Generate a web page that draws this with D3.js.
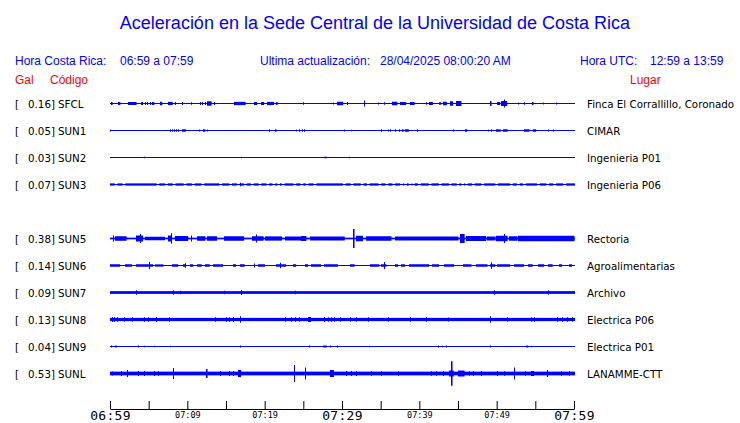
<!DOCTYPE html>
<html><head><meta charset="utf-8">
<script src="https://cdn.jsdelivr.net/npm/d3@7"></script>
<style>body{margin:0;background:#fff}svg{display:block}</style>
</head><body>
<svg id="c" width="740" height="423"></svg>
<script>
// ---------- data ----------
const title = "Aceleración en la Sede Central de la Universidad de Costa Rica";
const slots = ["SFCL","SUN1","SUN2","SUN3","SUN4","SUN5","SUN6","SUN7","SUN8","SUN9","SUNL"];
const codes = ["SFCL","SUN1","SUN2","SUN3","SUN5","SUN6","SUN7","SUN8","SUN9","SUNL"];
const peaks = [0.16,0.05,0.03,0.07,0.38,0.14,0.09,0.13,0.04,0.53];
const places = ["Finca El Corrallillo, Coronado","CIMAR","Ingenieria P01","Ingenieria P06","Rectoria","Agroalimentarias","Archivo","Electrica P06","Electrica P01","LANAMME-CTT"];
// background noise half-amplitude (Gal)
const noise = [0.01,0.01,0.01,0.045,0.035,0.015,0.055,0.065,0.01,0.075];
// quiet gaps (minutes after 06:59) for SUN3
const gapsSUN3 = [0.8,1.8,6.2,7.3,8.3,9.7,10.8,12.0,14.3,15.6,16.6,17.5,18.4,19.4,20.4,21.2,21.8,22.4,23.9,24.8,25.5,26.5,30.3,31.3,32.6,33.4,34.9,35.8,36.7,37.7,38.2,38.8,39.2,40.0,41.4,42.7,44.0,45.0,45.6,46.1,47.0,48.2,50.0,51.9,52.8,53.6,55.4,56.6,57.5,58.8];
// bursts: [start min, end min, half-amplitude Gal]
const burstsSFCL = [[0.1,0.3,.06],[1.0,1.3,.06],[2.3,3.4,.06],[4.0,4.0,.06],[4.2,4.2,.06],[4.5,4.5,.06],[4.8,4.8,.06],[5.2,5.2,.06],[5.4,5.7,.06],[6.5,6.8,.07],[7.5,8.1,.065],[8.4,8.4,.06],[9.3,9.3,.06],[10.5,10.5,.05],[11.6,11.6,.06],[11.9,11.9,.06],[12.3,12.3,.06],[12.6,13.2,.09],[13.5,13.5,.06],[16.0,17.5,.065],[18.6,19.0,.06],[19.5,19.9,.06],[20.3,21.2,.065],[21.5,21.7,.06],[25.0,25.0,.05],[28.9,28.9,.04],[29.4,30.2,.07],[30.6,30.6,.06],[32.8,32.8,.12],[34.6,34.6,.04],[35.4,35.4,.05],[36.5,37.2,.07],[37.5,38.3,.06],[38.8,39.4,.06],[40.9,40.9,.05],[41.3,41.8,.06],[42.5,42.8,.05],[43.1,43.6,.07],[44.0,44.4,.09],[44.8,45.5,.1],[49.2,49.4,.1],[50.1,50.5,.06],[50.6,51.4,.1],[51.0,51.1,.16],[52.8,52.8,.04],[53.5,53.5,.05],[54.6,54.8,.06],[56.0,56.0,.04],[57.7,57.7,.04]];
const burstsSUN1 = [[0,0,.04],[7.7,7.7,.05],[7.96,7.96,.05],[8.25,8.25,.05],[8.5,8.5,.05],[8.8,8.8,.05],[9.3,9.8,.05],[11.5,11.5,.04],[12.0,12.3,.05],[12.55,12.55,.04],[20.6,20.6,.05],[21.3,21.5,.05],[24.1,24.1,.04],[24.5,24.5,.05],[24.8,24.8,.05],[25.1,25.2,.05],[30.2,30.2,.04],[31.1,31.1,.03],[35.1,35.1,.05],[35.9,35.9,.04],[36.2,36.2,.05],[36.9,36.9,.05],[37.4,37.4,.05],[37.8,38.0,.05],[38.2,38.7,.05],[39.7,39.7,.05],[44.3,44.3,.04],[45.9,46.2,.05],[48.9,48.9,.04],[49.3,49.3,.05],[49.9,50.5,.05],[50.8,51.4,.05],[53.5,54.2,.05],[54.7,55.1,.05],[56.7,56.7,.04],[57.3,57.3,.04]];
const burstsSUN2 = [[4.4,4.4,.03],[16.9,16.9,.03],[27.7,28.1,.03],[30.9,30.9,.03],[49.2,49.2,.02]];
const burstsSUN3 = [[16.8,16.8,.07]];
const burstsSUN5 = [[0.43,0.43,.12],[0.65,2.15,.09],[3.4,4.3,.12],[3.9,3.9,.18],[4.5,7.1,.07],[7.5,8.0,.12],[7.83,7.83,.21],[8.4,10.1,.1],[10.45,10.45,.12],[11.2,12.3,.09],[12.5,13.8,.09],[14.8,17.4,.09],[18.3,19.8,.09],[18.9,18.9,.16],[20.0,22.2,.085],[22.6,24.7,.08],[24.7,25.4,.1],[25.8,30.3,.08],[31.45,31.65,.38],[31.8,32.7,.11],[33.1,36.4,.09],[36.8,45.0,.08],[45.2,45.8,.18],[46.0,48.6,.1],[48.8,49.9,.08],[49.9,51.4,.11],[51.0,51.0,.18],[51.6,52.7,.09],[52.7,60,.11]];
const burstsSUN6 = [[0.0,1.3,.05],[1.9,2.8,.05],[3.4,5.6,.05],[5.8,6.9,.045],[8.0,8.8,.05],[9.5,9.9,.05],[10.3,10.7,.05],[11.2,11.8,.05],[12.3,12.9,.05],[13.3,14.6,.05],[15.9,16.3,.05],[16.8,17.4,.05],[19.1,20.0,.05],[21.5,22.8,.05],[23.7,24.1,.05],[25.2,25.6,.05],[26.0,27.3,.05],[27.7,29.5,.05],[31.0,31.6,.05],[33.6,34.8,.05],[35.0,35.7,.05],[36.8,37.2,.05],[37.6,38.1,.05],[38.7,41.3,.05],[41.7,42.6,.05],[43.2,44.5,.05],[45.6,46.7,.05],[47.3,48.8,.05],[49.2,49.9,.05],[50.1,51.8,.05],[52.3,53.6,.05],[54.0,54.6,.05],[55.3,56.1,.05],[56.6,57.2,.05],[58.1,58.5,.05],[59.4,59.8,.05],[5.0,5.0,.14],[9.7,9.7,.09],[18.6,18.6,.08],[22.0,22.0,.11],[35.4,35.4,.14],[49.3,49.3,.13]];
const burstsSUN7 = [[3.4,3.4,.09],[8.1,8.1,.09],[9.0,9.0,.07],[14.8,14.8,.07],[16.9,16.9,.1],[23.9,23.9,.07],[49.6,49.6,.09],[56.6,56.6,.09]];
const burstsSUN8 = [[0.2,0.2,.1],[0.56,0.56,.1],[0.86,0.86,.09],[1.85,1.85,.09],[2.8,2.8,.09],[4.4,4.4,.09],[4.86,4.86,.09],[5.9,5.9,.1],[7.6,7.6,.09],[13.55,13.55,.09],[15.05,15.05,.1],[15.35,15.35,.09],[15.9,15.9,.1],[16.8,16.8,.13],[22.6,22.6,.09],[23.4,23.4,.09],[23.9,23.9,.09],[24.5,24.5,.09],[25.6,26.0,.1],[27.7,27.7,.1],[28.2,28.2,.09],[28.6,28.6,.09],[29.0,29.0,.09],[29.7,29.7,.09],[31.0,31.0,.09],[31.8,31.8,.09],[33.3,33.3,.09],[35.9,35.9,.09],[38.8,38.8,.09],[40.9,40.9,.09],[43.7,43.7,.08],[49.2,49.2,.13],[51.4,51.4,.09],[54.4,54.4,.09],[54.8,54.8,.09],[57.85,57.85,.09],[58.5,58.5,.09],[59.1,59.1,.09],[59.8,59.8,.09]];
const burstsSUN9 = [[0.13,0.13,.04],[0.65,0.86,.04],[3.65,3.65,.04],[4.4,4.4,.03],[5.7,5.7,.03],[7.7,7.7,.03],[16.8,16.8,.04],[25.7,25.8,.04],[27.5,28.0,.04],[28.4,28.4,.04],[29.3,29.3,.04],[33.5,33.5,.03],[42.4,42.4,.04],[42.9,42.9,.03],[43.4,43.4,.04],[49.2,49.2,.04],[53.8,54.1,.04],[54.4,54.4,.03]];
const burstsSUNL = [[0.3,0.3,.08],[1.42,1.42,.1],[2.2,2.2,.14],[3.65,3.65,.1],[4.4,4.4,.1],[5.7,5.7,.1],[6.2,6.2,.09],[8.17,8.17,.22],[12.4,12.6,.18],[14.2,14.2,.1],[15.35,15.35,.1],[15.9,15.9,.1],[16.6,17.0,.14],[23.8,23.8,.34],[25.2,25.2,.24],[28.5,29.0,.14],[30.5,30.5,.1],[31.1,31.1,.1],[31.8,31.8,.1],[33.8,33.8,.09],[35.0,35.0,.09],[37.2,37.2,.09],[41.5,41.5,.09],[42.15,42.15,.09],[43.1,43.1,.1],[43.9,44.5,.12],[44.1,44.3,.49],[44.95,45.8,.12],[46.45,46.45,.09],[46.9,46.9,.09],[48.0,48.0,.1],[50.1,50.1,.1],[51.0,51.0,.09],[52.2,52.2,.24],[53.6,53.6,.09],[54.4,54.8,.1],[56.5,56.5,.14],[58.3,58.3,.09],[59.4,59.4,.09]];
const bursts = [burstsSFCL,burstsSUN1,burstsSUN2,burstsSUN3,burstsSUN5,burstsSUN6,burstsSUN7,burstsSUN8,burstsSUN9,burstsSUNL];
const tickTimes = ["06:59","07:04","07:09","07:14","07:19","07:24","07:29","07:34","07:39","07:44","07:49","07:54","07:59"];
const majorTicks = ["06:59","07:29","07:59"];
const minorLabels = ["07:09","07:19","07:39","07:49"];
const header = {cr:"06:59 a 07:59", upd:"28/04/2025 08:00:20 AM", utc:"12:59 a 13:59"};

// ---------- drawing ----------
const svg = d3.select("#c");
const BLUE = "#0000ff", RED = "#ff0000";
const parse = d3.timeParse("%H:%M");
const t0 = parse("06:59");
const at = m => new Date(t0.getTime() + m*60000);
const x = d3.scaleTime().domain([parse("06:59"), parse("07:59")]).range([110, 574]);
const y = d3.scalePoint().domain(slots).range([103, 373]);
const amp = d3.scaleLinear().domain([0, 0.5]).range([0, 12.5]);
const sans = "'Liberation Sans', Arial, sans-serif";
const dv = "'DejaVu Sans', sans-serif";
const LFS = 10.3;

svg.append("text").attr("x", 375).attr("y", 29).attr("text-anchor","middle")
  .attr("font-family", sans).attr("font-size", 18).attr("fill", BLUE).text(title);

const hdr = svg.append("g").attr("font-family", sans).attr("font-size", 12).attr("fill", BLUE);
hdr.append("text").attr("x",15).attr("y",65).text("Hora Costa Rica:");
hdr.append("text").attr("x",120).attr("y",65).text(header.cr);
hdr.append("text").attr("x",260).attr("y",65).text("Ultima actualización:");
hdr.append("text").attr("x",380).attr("y",65).text(header.upd);
hdr.append("text").attr("x",580).attr("y",65).text("Hora UTC:");
hdr.append("text").attr("x",650).attr("y",65).text(header.utc);
const red = svg.append("g").attr("font-family", sans).attr("font-size", 12).attr("fill", RED);
red.append("text").attr("x",15).attr("y",84).text("Gal");
red.append("text").attr("x",50).attr("y",84).text("Código");
red.append("text").attr("x",630).attr("y",84).text("Lugar");

const fmt = d3.format(".2f");
codes.forEach((code, i) => {
  const cy = y(code) + 0.5;
  const g = svg.append("g").attr("font-family",dv).attr("font-size",LFS).attr("fill","#000");
  // labels
  g.append("text").attr("x",15).attr("y",cy+4).text("[");
  g.append("text").attr("x",55).attr("y",cy+4).attr("text-anchor","end").text(fmt(peaks[i]) + "]");
  g.append("text").attr("x",58).attr("y",cy+4).text(code);
  g.append("text").attr("x",587).attr("y",cy+4).text(places[i]);
  // baseline
  const x0 = x(at(0)), x1 = x(at(60)) + 1;
  g.append("rect").attr("x",x0).attr("y",cy-0.5).attr("width",x1-x0).attr("height",1).attr("fill",BLUE);
  // noise band
  const h = amp(noise[i]);
  if (h > 0.5) {
    let segs = [[0,60]];
    if (code === "SUN3") {
      segs = [];
      let s = 0;
      gapsSUN3.forEach(gm => { segs.push([s, gm - 0.17]); s = gm + 0.17; });
      segs.push([s, 60]);
    }
    segs.forEach(([a,b]) => {
      g.append("rect").attr("x",x(at(a))).attr("y",cy-h).attr("width",Math.max(1,x(at(b))-x(at(a))+ (b===60?1:0))).attr("height",2*h).attr("fill",BLUE);
    });
  }
  // bursts
  g.selectAll(null).data(bursts[i]).enter().append("rect")
    .attr("x", d => Math.round(x(at(d[0]))))
    .attr("y", d => cy - amp(d[2]))
    .attr("width", d => Math.max(1, x(at(d[1])) - x(at(d[0]))))
    .attr("height", d => 2*amp(d[2]))
    .attr("fill", BLUE);
});

// time axis
const axis = d3.axisBottom(x).tickValues(tickTimes.map(parse)).tickSizeInner(-8).tickSizeOuter(0)
  .tickFormat(d => { const s = d3.timeFormat("%H:%M")(d); return (majorTicks.includes(s) || minorLabels.includes(s)) ? s : ""; });
const ax = svg.append("g").attr("transform","translate(0,409)").call(axis);
ax.select(".domain").attr("stroke","#000");
ax.selectAll(".tick line").attr("stroke","#000");
ax.selectAll(".tick text").attr("font-family","'DejaVu Sans Mono', monospace").attr("fill","#000")
  .each(function(d){
    const s = d3.timeFormat("%H:%M")(d);
    const t = d3.select(this).attr("dy", null);
    if (majorTicks.includes(s)) t.attr("y", 11).attr("font-size", 13).attr("letter-spacing", 0.3);
    else t.attr("y", 9).attr("font-size", 8.5);
  });
</script>
</body></html>
